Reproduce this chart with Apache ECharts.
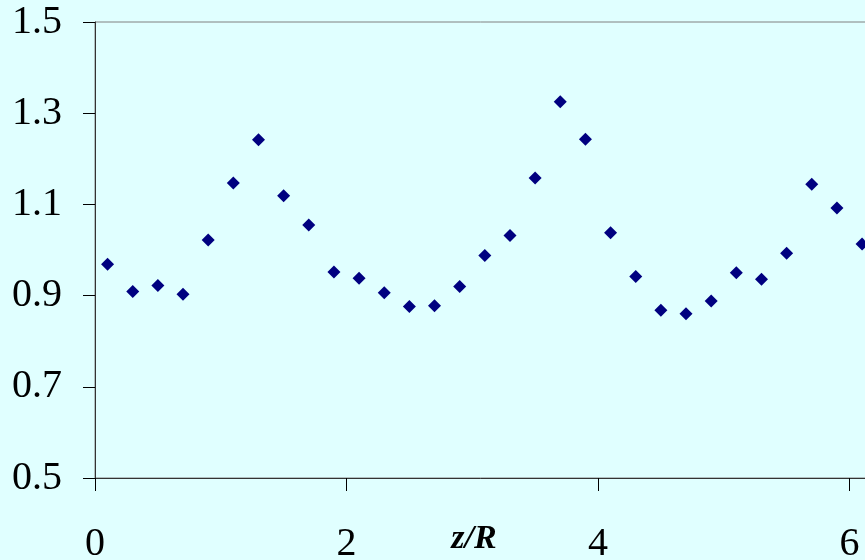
<!DOCTYPE html>
<html>
<head>
<meta charset="utf-8">
<style>
  html, body { margin: 0; padding: 0; background: #E0FFFF; }
  #chart { width: 865px; height: 560px; }
</style>
<script src="https://cdn.jsdelivr.net/npm/echarts@6/dist/echarts.min.js"></script>
</head>
<body>
<div id="chart"></div>
<script>
// Axial positions z/R of the samples
const zOverR = [0.1, 0.3, 0.5, 0.7, 0.9, 1.1, 1.3, 1.5, 1.7, 1.9,
                2.1, 2.3, 2.5, 2.7, 2.9, 3.1, 3.3, 3.5, 3.7, 3.9,
                4.1, 4.3, 4.5, 4.7, 4.9, 5.1, 5.3, 5.5, 5.7, 5.9, 6.1];
// Measured ratio at each position
const ratio = [0.969, 0.909, 0.922, 0.903, 1.022, 1.147, 1.242, 1.119, 1.055, 0.952,
               0.938, 0.906, 0.876, 0.878, 0.920, 0.988, 1.032, 1.158, 1.325, 1.243,
               1.038, 0.942, 0.868, 0.860, 0.888, 0.950, 0.936, 0.993, 1.144, 1.092, 1.013];
// Axis ranges
const xRange = [0, 8, 2];
const yRange = [0.5, 1.5, 0.2];
const xTitle = 'z/R';

const points = zOverR.map((z, i) => [z, ratio[i]]);

const serif = '"Liberation Serif", "Times New Roman", serif';
const chart = echarts.init(document.getElementById('chart'), null, { renderer: 'canvas' });

chart.setOption({
  backgroundColor: '#E0FFFF',
  animation: false,
  grid: {
    // plot area runs past the right edge of the page
    left: 95, top: 22, width: 1006, height: 456,
    outerBoundsMode: 'none',
    containLabel: false,
    show: true, borderColor: '#808080', borderWidth: 1,
    backgroundColor: 'transparent'
  },
  xAxis: {
    type: 'value',
    min: xRange[0], max: xRange[1], interval: xRange[2],
    axisLine: { show: true, onZero: false, lineStyle: { color: '#333333', width: 1 } },
    axisTick: { show: true, inside: false, length: 13, lineStyle: { color: '#000000' } },
    splitLine: { show: false },
    axisLabel: {
      margin: 46, fontFamily: serif, fontSize: 40, color: '#000000',
      formatter: v => String(v)
    }
  },
  yAxis: {
    type: 'value',
    min: yRange[0], max: yRange[1], interval: yRange[2],
    axisLine: { show: true, onZero: false, lineStyle: { color: '#333333', width: 1 } },
    axisTick: { show: true, inside: false, length: 12, lineStyle: { color: '#000000' } },
    splitLine: { show: false },
    axisLabel: {
      margin: 33, fontFamily: serif, fontSize: 40, color: '#000000',
      formatter: v => v.toFixed(1)
    }
  },
  graphic: [{
    type: 'text',
    x: 474, y: 539,
    style: {
      text: xTitle,
      font: 'italic bold 34px ' + serif,
      fill: '#000000',
      align: 'center',
      verticalAlign: 'middle'
    }
  }],
  series: [{
    type: 'scatter',
    data: points,
    symbol: 'diamond',
    symbolSize: 13,
    itemStyle: { color: '#000080', opacity: 1 }
  }]
});
</script>
</body>
</html>
